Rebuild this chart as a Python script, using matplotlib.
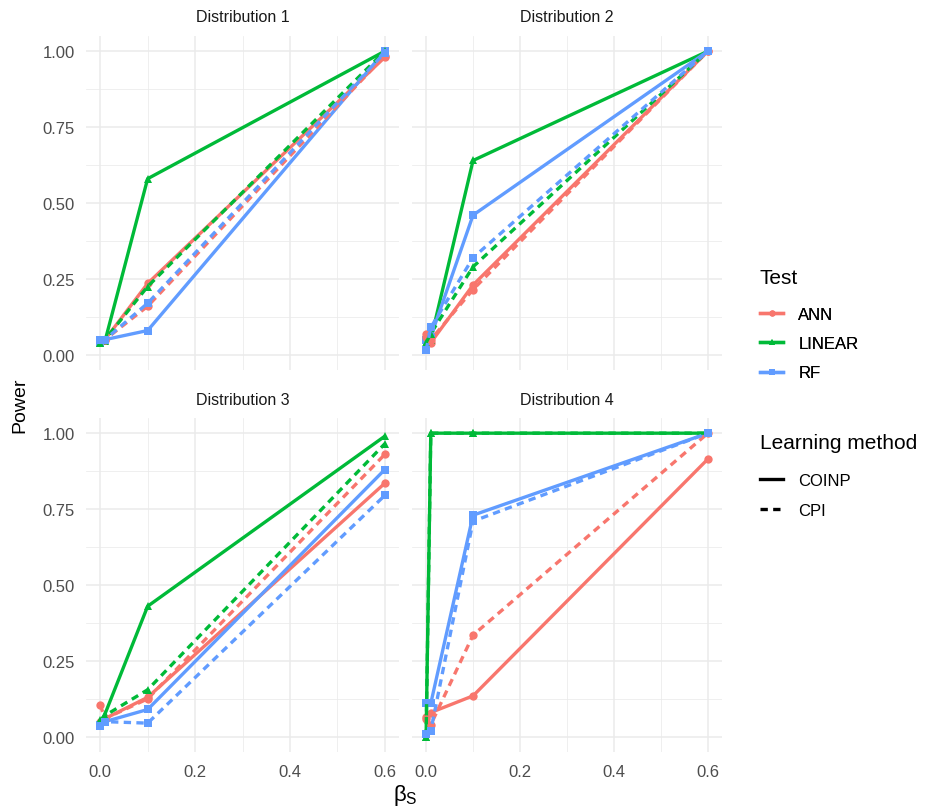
import matplotlib
matplotlib.use("Agg")
import matplotlib.pyplot as plt
from matplotlib.lines import Line2D
import numpy as np

plt.rcParams['font.family'] = ['Liberation Sans', 'DejaVu Sans']
plt.rcParams['mathtext.fontset'] = 'custom'
plt.rcParams['mathtext.rm'] = 'Liberation Sans'
plt.rcParams['mathtext.it'] = 'Liberation Sans'

x = [0, 0.01, 0.1, 0.6]
panels = ["Distribution 1", "Distribution 2", "Distribution 3", "Distribution 4"]
tests = ["ANN", "LINEAR", "RF"]
methods = ["COINP", "CPI"]

d1_ann_coinp = [0.05, 0.05, 0.235, 0.98]
d1_ann_cpi = [0.05, 0.05, 0.16, 0.985]
d1_lin_coinp = [0.04, 0.045, 0.58, 1.0]
d1_lin_cpi = [0.04, 0.05, 0.225, 1.0]
d1_rf_coinp = [0.04, 0.05, 0.08, 1.0]
d1_rf_cpi = [0.05, 0.05, 0.17, 0.995]

d2_ann_coinp = [0.07, 0.04, 0.23, 1.0]
d2_ann_cpi = [0.06, 0.05, 0.215, 1.0]
d2_lin_coinp = [0.04, 0.05, 0.64, 1.0]
d2_lin_cpi = [0.04, 0.07, 0.29, 1.0]
d2_rf_coinp = [0.05, 0.06, 0.46, 1.0]
d2_rf_cpi = [0.015, 0.09, 0.32, 1.0]

d3_ann_coinp = [0.05, 0.06, 0.13, 0.835]
d3_ann_cpi = [0.105, 0.06, 0.125, 0.93]
d3_lin_coinp = [0.04, 0.075, 0.43, 0.99]
d3_lin_cpi = [0.055, 0.07, 0.155, 0.965]
d3_rf_coinp = [0.04, 0.05, 0.09, 0.88]
d3_rf_cpi = [0.035, 0.05, 0.045, 0.795]

d4_ann_coinp = [0.065, 0.08, 0.135, 0.915]
d4_ann_cpi = [0.06, 0.04, 0.335, 1.0]
d4_lin_coinp = [0.0, 1.0, 1.0, 1.0]
d4_lin_cpi = [0.0, 1.0, 1.0, 1.0]
d4_rf_coinp = [0.11, 0.11, 0.73, 1.0]
d4_rf_cpi = [0.01, 0.02, 0.71, 1.0]

data = {
    0: {("ANN", "COINP"): d1_ann_coinp, ("ANN", "CPI"): d1_ann_cpi,
        ("LINEAR", "COINP"): d1_lin_coinp, ("LINEAR", "CPI"): d1_lin_cpi,
        ("RF", "COINP"): d1_rf_coinp, ("RF", "CPI"): d1_rf_cpi},
    1: {("ANN", "COINP"): d2_ann_coinp, ("ANN", "CPI"): d2_ann_cpi,
        ("LINEAR", "COINP"): d2_lin_coinp, ("LINEAR", "CPI"): d2_lin_cpi,
        ("RF", "COINP"): d2_rf_coinp, ("RF", "CPI"): d2_rf_cpi},
    2: {("ANN", "COINP"): d3_ann_coinp, ("ANN", "CPI"): d3_ann_cpi,
        ("LINEAR", "COINP"): d3_lin_coinp, ("LINEAR", "CPI"): d3_lin_cpi,
        ("RF", "COINP"): d3_rf_coinp, ("RF", "CPI"): d3_rf_cpi},
    3: {("ANN", "COINP"): d4_ann_coinp, ("ANN", "CPI"): d4_ann_cpi,
        ("LINEAR", "COINP"): d4_lin_coinp, ("LINEAR", "CPI"): d4_lin_cpi,
        ("RF", "COINP"): d4_rf_coinp, ("RF", "CPI"): d4_rf_cpi},
}

colors = {"ANN": "#F8766D", "LINEAR": "#00BA38", "RF": "#619CFF"}
markers = {"ANN": "o", "LINEAR": "^", "RF": "s"}
LW = 2.4
DASH = (2.2, 1.6)

fig = plt.figure(figsize=(9.36, 8.12), dpi=100)
W, H = 936, 812
boxes = [(86, 37, 399, 371), (412, 37, 722, 371), (86, 419, 399, 753), (412, 419, 722, 753)]
grid_c = "#EBEBEB"
txt_c = "#4D4D4D"

for i, (l, t, r, b) in enumerate(boxes):
    ax = fig.add_axes([l / W, 1 - b / H, (r - l) / W, (b - t) / H])
    ax.set_xlim(-0.03, 0.63)
    ax.set_ylim(-0.05, 1.05)
    for s in ax.spines.values():
        s.set_visible(False)
    ax.set_xticks([0, 0.2, 0.4, 0.6])
    ax.set_yticks([0, 0.25, 0.5, 0.75, 1.0])
    ax.set_xticks([0.1, 0.3, 0.5], minor=True)
    ax.set_yticks([0.125, 0.375, 0.625, 0.875], minor=True)
    ax.grid(which='major', color=grid_c, lw=1.1)
    ax.grid(which='minor', color=grid_c, lw=0.55)
    ax.set_axisbelow(True)
    ax.tick_params(which='both', length=0, colors=txt_c, labelsize=12)
    ax.tick_params(axis='y', pad=8)
    ax.tick_params(axis='x', pad=9)
    if i in (0, 2):
        ax.set_yticklabels(["0.00", "0.25", "0.50", "0.75", "1.00"])
    else:
        ax.set_yticklabels([])
    if i in (2, 3):
        ax.set_xticklabels(["0.0", "0.2", "0.4", "0.6"])
    else:
        ax.set_xticklabels([])
    fig.text(((l + r) / 2) / W, 1 - (18 if i < 2 else 401) / H, panels[i],
             ha='center', va='center', fontsize=11.5, color="#1A1A1A")
    for m in methods:
        for tname in tests:
            y = data[i][(tname, m)]
            kw = dict(color=colors[tname], lw=LW, marker=markers[tname], ms=6,
                      markeredgewidth=0, clip_on=False, solid_capstyle='butt')
            if m == "CPI":
                ax.plot(x, y, linestyle=(0, DASH), **kw)
            else:
                ax.plot(x, y, linestyle='-', **kw)

fig.text(20 / W, 1 - 405 / H, "Power", rotation=90, ha='center', va='center', fontsize=14)
fig.text(405 / W, 1 - 796 / H, r"$\beta_S$", ha='center', va='center', fontsize=16)

fig.text(760 / W, 1 - 279 / H, "Test", ha='left', va='center', fontsize=15)
fig.text(760 / W, 1 - 444 / H, "Learning method", ha='left', va='center', fontsize=15)

h1 = [Line2D([], [], color=colors[t], marker=markers[t], lw=LW, ms=4.5, markeredgewidth=0) for t in tests]
leg1 = fig.legend(h1, tests, loc='upper left', bbox_to_anchor=(760 / W, 1 - 307.5 / H),
                  frameon=False, fontsize=12, handlelength=1.4,
                  labelspacing=0.87, handletextpad=0.9, borderpad=0, borderaxespad=0)
h2 = [Line2D([], [], color='black', lw=LW, linestyle='-'),
      Line2D([], [], color='black', lw=LW, linestyle=(0, DASH))]
leg2 = fig.legend(h2, methods, loc='upper left', bbox_to_anchor=(760 / W, 1 - 474 / H),
                  frameon=False, fontsize=12, handlelength=1.4,
                  labelspacing=0.87, handletextpad=0.9, borderpad=0, borderaxespad=0)
fig.add_artist(leg1)

fig.savefig("out.png", dpi=100, facecolor='white')
